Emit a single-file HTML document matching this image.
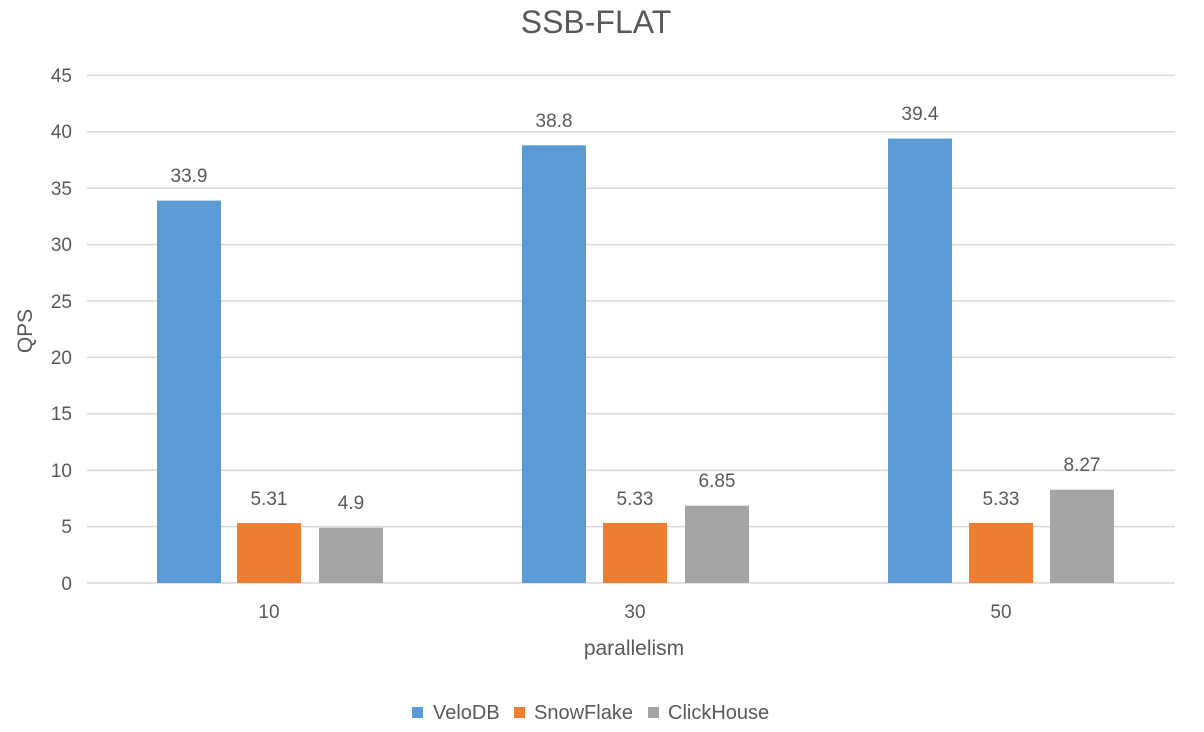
<!DOCTYPE html>
<html><head><style>body{margin:0;background:#fff}svg{display:block}text{font-family:"Liberation Sans",sans-serif;fill:#595959}</style></head>
<body>
<svg width="1204" height="732" viewBox="0 0 1204 732">
<text x="596" y="33" font-size="32" text-anchor="middle">SSB-FLAT</text>
<g stroke="#d9d9d9" stroke-width="1.5">
<line x1="87" x2="1175" y1="583" y2="583"/><line x1="87" x2="1175" y1="526.6" y2="526.6"/><line x1="87" x2="1175" y1="470.2" y2="470.2"/><line x1="87" x2="1175" y1="413.8" y2="413.8"/><line x1="87" x2="1175" y1="357.4" y2="357.4"/><line x1="87" x2="1175" y1="301" y2="301"/><line x1="87" x2="1175" y1="244.6" y2="244.6"/><line x1="87" x2="1175" y1="188.2" y2="188.2"/><line x1="87" x2="1175" y1="131.8" y2="131.8"/><line x1="87" x2="1175" y1="75.4" y2="75.4"/>
</g>
<g font-size="19" text-anchor="end">
<text x="72" y="590">0</text><text x="72" y="533">5</text><text x="72" y="477">10</text><text x="72" y="420">15</text><text x="72" y="364">20</text><text x="72" y="308">25</text><text x="72" y="251">30</text><text x="72" y="195">35</text><text x="72" y="138">40</text><text x="72" y="82">45</text>
</g>
<text transform="translate(32,331) rotate(-90)" font-size="21" text-anchor="middle">QPS</text>
<g fill="#5b9bd5"><rect x="157" y="200.6" width="64" height="382.4"/><rect x="522" y="145.3" width="64" height="437.7"/><rect x="888" y="138.6" width="64" height="444.4"/></g>
<g fill="#ed7d31"><rect x="237" y="523.1" width="64" height="59.9"/><rect x="603" y="522.9" width="64" height="60.1"/><rect x="969" y="522.9" width="64" height="60.1"/></g>
<g fill="#a5a5a5"><rect x="319" y="527.7" width="64" height="55.3"/><rect x="685" y="505.7" width="64" height="77.3"/><rect x="1050" y="489.7" width="64" height="93.3"/></g>
<g font-size="19" text-anchor="middle">
<text x="189" y="182">33.9</text><text x="554" y="127">38.8</text><text x="920" y="120">39.4</text>
<text x="269" y="505">5.31</text><text x="635" y="505">5.33</text><text x="1001" y="505">5.33</text>
<text x="351" y="509">4.9</text><text x="717" y="487">6.85</text><text x="1082" y="471">8.27</text>
<text x="269" y="618">10</text><text x="635" y="618">30</text><text x="1001" y="618">50</text>
</g>
<text x="634" y="655" font-size="21" text-anchor="middle">parallelism</text>
<rect x="412" y="707" width="11" height="11" fill="#5b9bd5"/><text x="433" y="719" font-size="20">VeloDB</text>
<rect x="514" y="707" width="11" height="11" fill="#ed7d31"/><text x="534" y="719" font-size="20">SnowFlake</text>
<rect x="648" y="707" width="11" height="11" fill="#a5a5a5"/><text x="668" y="719" font-size="20">ClickHouse</text>
</svg>
</body></html>
